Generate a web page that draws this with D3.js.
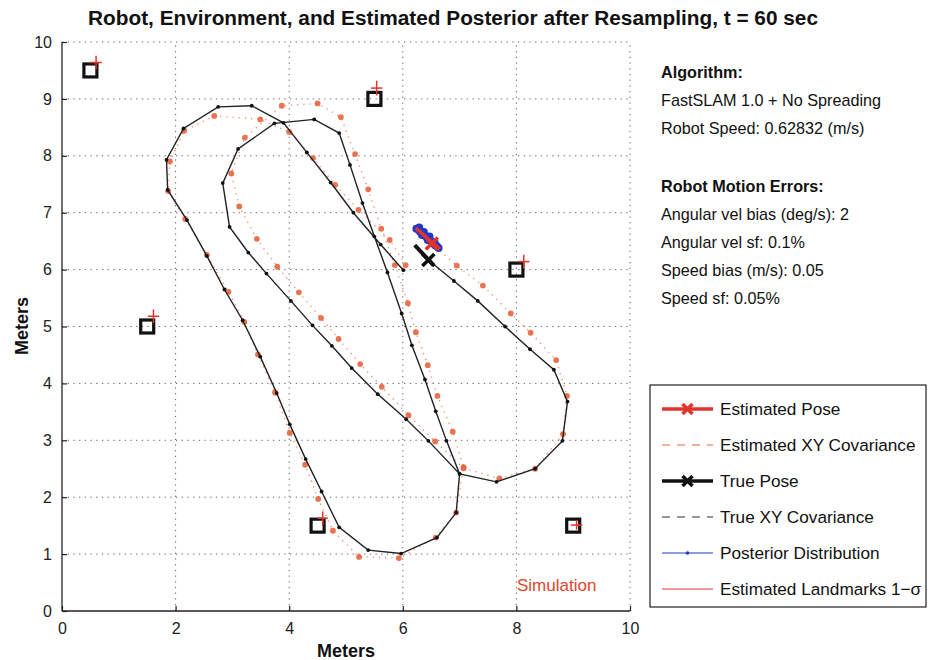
<!DOCTYPE html>
<html><head><meta charset="utf-8">
<script src="https://cdn.jsdelivr.net/npm/d3@7"></script>
<style>body{margin:0;background:#fff}svg{display:block}</style>
</head><body><svg id="c" width="929" height="660"></svg>
<script>
// ---------- data ----------
const xTicks = [0,2,4,6,8,10];
const yTicks = [0,1,2,3,4,5,6,7,8,9,10];
const gridVals = [0,1,2,3,4,5,6,7,8,9,10];
const landmarksTrue = [[0.5,9.5],[5.5,9.0],[1.5,5.0],[8.0,6.0],[4.5,1.5],[9.0,1.5]];
const landmarksEst  = [[0.60,9.64],[5.54,9.19],[1.61,5.18],[8.13,6.14],[4.59,1.63],[9.06,1.51]];
const landmarkSigX  = [0.10,0.10,0.10,0.10,0.09,0.10];
const landmarkSigY  = [0.12,0.13,0.12,0.12,0.12,0.08];
const truePath = [[6.01,5.99],[5.61,6.44],[5.13,7.00],[4.73,7.53],[4.31,8.06],[3.90,8.58],[3.34,8.88],[2.75,8.86],[2.14,8.48],[1.84,7.93],[1.86,7.40],[2.20,6.87],[2.55,6.24],[2.86,5.65],[3.18,5.11],[3.49,4.47],[3.78,3.83],[4.01,3.28],[4.29,2.67],[4.57,2.10],[4.88,1.47],[5.39,1.07],[5.97,1.01],[6.60,1.29],[6.94,1.73],[7.00,2.41],[6.77,2.99],[6.58,3.51],[6.39,4.07],[6.16,4.67],[5.98,5.23],[5.73,5.95],[5.50,6.58],[5.29,7.17],[5.07,7.84],[4.88,8.40],[4.44,8.64],[3.74,8.57],[3.10,8.12],[2.83,7.52],[2.95,6.75],[3.28,6.30],[3.60,5.93],[4.03,5.45],[4.41,5.02],[4.75,4.66],[5.10,4.27],[5.56,3.81],[6.06,3.37],[6.45,2.99],[7.00,2.41],[7.65,2.27],[8.33,2.50],[8.81,2.99],[8.90,3.68],[8.66,4.24],[8.24,4.60],[7.80,5.00],[7.32,5.45],[6.90,5.80],[6.45,6.17]];
const estPath = [[6.05,6.08],[5.77,6.52],[5.22,7.05],[4.81,7.49],[4.42,7.96],[4.00,8.42],[3.49,8.64],[2.68,8.70],[2.15,8.44],[1.90,7.90],[1.87,7.38],[2.17,6.89],[2.55,6.26],[2.93,5.61],[3.21,5.08],[3.45,4.51],[3.75,3.84],[4.01,3.13],[4.28,2.57],[4.51,1.97],[4.77,1.41],[5.23,0.95],[5.93,0.93],[6.58,1.29],[6.94,1.73],[7.07,2.53],[6.88,3.15],[6.61,3.78],[6.44,4.32],[6.23,4.90],[6.09,5.41],[5.86,6.08],[5.62,6.72],[5.39,7.41],[5.16,8.03],[4.91,8.68],[4.50,8.92],[3.87,8.88],[3.22,8.32],[2.98,7.69],[3.12,7.11],[3.43,6.54],[3.79,6.05],[4.17,5.60],[4.56,5.15],[4.87,4.78],[5.25,4.34],[5.63,3.94],[6.10,3.44],[6.57,2.98],[7.07,2.51],[7.70,2.33],[8.33,2.50],[8.82,3.11],[8.89,3.78],[8.70,4.41],[8.25,4.89],[7.90,5.23],[7.41,5.72],[6.95,6.07],[6.51,6.46]];
const truePose = {x:6.45, y:6.17, hx0:6.21, hy0:6.43, hx1:6.54, hy1:6.08};
const estPose  = {x:6.51, y:6.46, hx0:6.23, hy0:6.73, hx1:6.65, hy1:6.36};
const posteriorX = [6.24,6.27,6.30,6.33,6.36,6.39,6.42,6.45,6.48,6.51,6.54,6.57,6.60,6.63,6.29,6.37,6.47,6.56,6.34,6.44];
const posteriorY = [6.72,6.71,6.67,6.65,6.62,6.60,6.57,6.54,6.51,6.49,6.46,6.43,6.41,6.38,6.74,6.66,6.58,6.47,6.61,6.52];
const infoLines = [
  {t:"Algorithm:", b:true}, {t:"FastSLAM 1.0 + No Spreading"}, {t:"Robot Speed: 0.62832 (m/s)"}, {t:""},
  {t:"Robot Motion Errors:", b:true}, {t:"Angular vel bias (deg/s): 2"}, {t:"Angular vel sf: 0.1%"},
  {t:"Speed bias (m/s): 0.05"}, {t:"Speed sf: 0.05%"}];
const infoY = [78,106,134,0,192,220,248,276,304];
const legendItems = ["Estimated Pose","Estimated XY Covariance","True Pose","True XY Covariance","Posterior Distribution","Estimated Landmarks 1\u2212\u03c3"];

// ---------- drawing ----------
const svg = d3.select("#c");
const FONT = "'Liberation Sans', Arial, Helvetica, sans-serif";
const RED = "#e0352b", ORANGE = "#e8653f", BLUE = "#2438c8";
const x = d3.scaleLinear().domain([0,10]).range([62,630]);
const y = d3.scaleLinear().domain([0,10]).range([611,42]);

// grid
const g = svg.append("g");
g.selectAll(".gv").data(gridVals.filter(v=>v%2===0 && v>0)).join("line")
 .attr("x1",d=>x(d)).attr("x2",d=>x(d)).attr("y1",y(0)).attr("y2",y(10))
 .attr("stroke","#666").attr("stroke-width",1).attr("stroke-dasharray","1.3,4.4");
g.selectAll(".gh").data(gridVals.filter(v=>v>0)).join("line")
 .attr("x1",x(0)).attr("x2",x(10)).attr("y1",d=>y(d)).attr("y2",d=>y(d))
 .attr("stroke","#666").attr("stroke-width",1).attr("stroke-dasharray","1.3,4.4");

// axes
const xAxis = d3.axisBottom(x).tickValues(xTicks).tickSize(-5).tickPadding(12).tickFormat(d3.format("d"));
const yAxis = d3.axisLeft(y).tickValues(yTicks).tickSize(-5).tickPadding(10).tickFormat(d3.format("d"));
const gx = svg.append("g").attr("transform",`translate(0,${y(0)})`).call(xAxis);
const gy = svg.append("g").attr("transform",`translate(${x(0)},0)`).call(yAxis);
[gx,gy].forEach(a=>{
  a.select(".domain").attr("stroke","#222").attr("stroke-width",1.3);
  a.selectAll(".tick line").attr("stroke","#222").attr("stroke-width",1.2);
  a.selectAll(".tick text").attr("font-family",FONT).attr("font-size",16).attr("fill","#222");
});
gy.select(".domain").attr("d",`M0,${y(0)}V${y(10)}`);
gx.select(".domain").attr("d",`M${x(0)},0H${x(10)}`);

// estimated path (dotted orange + dots)
const line = d3.line().x(d=>x(d[0])).y(d=>y(d[1]));
svg.append("path").attr("d",line(estPath)).attr("fill","none").attr("stroke",ORANGE)
 .attr("stroke-width",1.4).attr("stroke-dasharray","1.2,5").attr("opacity",0.75);
svg.selectAll(".ed").data(estPath).join("circle").attr("cx",d=>x(d[0])).attr("cy",d=>y(d[1]))
 .attr("r",2.9).attr("fill",ORANGE).attr("opacity",0.9);

// true path
svg.append("path").attr("d",line(truePath)).attr("fill","none").attr("stroke","#222").attr("stroke-width",1.4);
svg.selectAll(".td").data(truePath).join("circle").attr("cx",d=>x(d[0])).attr("cy",d=>y(d[1]))
 .attr("r",1.9).attr("fill","#111");

// landmarks
svg.selectAll(".lm").data(landmarksTrue).join("rect")
 .attr("x",d=>x(d[0])-6.5).attr("y",d=>y(d[1])-6.5).attr("width",13).attr("height",13)
 .attr("fill","none").attr("stroke","#111").attr("stroke-width",3.2);
const le = svg.append("g");
landmarksEst.forEach((d,i)=>{
  le.append("line").attr("x1",x(d[0]-landmarkSigX[i])).attr("x2",x(d[0]+landmarkSigX[i]))
    .attr("y1",y(d[1])).attr("y2",y(d[1])).attr("stroke",RED).attr("stroke-width",1.5);
  le.append("line").attr("x1",x(d[0])).attr("x2",x(d[0]))
    .attr("y1",y(d[1]-landmarkSigY[i])).attr("y2",y(d[1]+landmarkSigY[i])).attr("stroke",RED).attr("stroke-width",1.5);
});

// posterior particles
const post = posteriorX.map((v,i)=>[v,posteriorY[i]]);
svg.selectAll(".pp").data(post).join("circle").attr("cx",d=>x(d[0])).attr("cy",d=>y(d[1]))
 .attr("r",4).attr("fill",BLUE);

// poses
function xMark(sel, cx, cy, s, col, w){
  sel.append("path").attr("d",`M${cx-s},${cy-s}L${cx+s},${cy+s}M${cx-s},${cy+s}L${cx+s},${cy-s}`)
   .attr("stroke",col).attr("stroke-width",w).attr("fill","none");
}
svg.append("line").attr("x1",x(truePose.hx0)).attr("y1",y(truePose.hy0)).attr("x2",x(truePose.hx1)).attr("y2",y(truePose.hy1))
 .attr("stroke","#111").attr("stroke-width",4);
xMark(svg, x(truePose.x), y(truePose.y), 6, "#111", 3.5);
svg.append("line").attr("x1",x(estPose.hx0)).attr("y1",y(estPose.hy0)).attr("x2",x(estPose.hx1)).attr("y2",y(estPose.hy1))
 .attr("stroke",RED).attr("stroke-width",3.5);
xMark(svg, x(estPose.x), y(estPose.y), 6, RED, 3.5);

// "Simulation" label
svg.append("text").attr("x",517).attr("y",591).attr("font-family",FONT).attr("font-size",17)
 .attr("fill","#e0452b").text("Simulation");

// title & axis labels
svg.append("text").attr("x",453).attr("y",25).attr("text-anchor","middle")
 .attr("font-family","'Liberation Sans Narrow','Liberation Sans',Arial,sans-serif").attr("font-weight","bold")
 .attr("font-size",19.5).attr("textLength",730).attr("lengthAdjust","spacingAndGlyphs").attr("fill","#111")
 .text("Robot, Environment, and Estimated Posterior after Resampling, t = 60 sec");
svg.append("text").attr("x",346).attr("y",657).attr("text-anchor","middle").attr("font-family",FONT)
 .attr("font-weight","bold").attr("font-size",18).attr("fill","#111").text("Meters");
svg.append("text").attr("transform","translate(28,326) rotate(-90)").attr("text-anchor","middle").attr("font-family",FONT)
 .attr("font-weight","bold").attr("font-size",18).attr("fill","#111").text("Meters");

// info text
infoLines.forEach((l,i)=>{ if(!l.t) return;
  svg.append("text").attr("x",661).attr("y",infoY[i]).attr("font-family",FONT).attr("font-size",16.2)
   .attr("font-weight",l.b?"bold":"normal").attr("fill","#111").text(l.t);
});

// legend
const lg = svg.append("g");
lg.append("rect").attr("x",650).attr("y",385).attr("width",276).attr("height",222)
 .attr("fill","#fff").attr("stroke","#222").attr("stroke-width",1.2);
const ly = d3.scaleLinear().domain([0,5]).range([409,589]);
legendItems.forEach((t,i)=>{
  const yy = ly(i), x0=662, x1=713, xm=(x0+x1)/2;
  if(i===0){ lg.append("line").attr("x1",x0).attr("x2",x1).attr("y1",yy).attr("y2",yy).attr("stroke",RED).attr("stroke-width",3.5);
    xMark(lg,xm,yy,5,RED,3.5); }
  if(i===1){ lg.append("line").attr("x1",x0).attr("x2",x1).attr("y1",yy).attr("y2",yy).attr("stroke",ORANGE).attr("stroke-width",1.2).attr("stroke-dasharray","8,7"); }
  if(i===2){ lg.append("line").attr("x1",x0).attr("x2",x1).attr("y1",yy).attr("y2",yy).attr("stroke","#111").attr("stroke-width",3.5);
    xMark(lg,xm,yy,5,"#111",3.5); }
  if(i===3){ lg.append("line").attr("x1",x0).attr("x2",x1).attr("y1",yy).attr("y2",yy).attr("stroke","#333").attr("stroke-width",1.2).attr("stroke-dasharray","8,7"); }
  if(i===4){ lg.append("line").attr("x1",x0).attr("x2",x1).attr("y1",yy).attr("y2",yy).attr("stroke",BLUE).attr("stroke-width",1.2);
    lg.append("circle").attr("cx",xm).attr("cy",yy).attr("r",1.8).attr("fill",BLUE); }
  if(i===5){ lg.append("line").attr("x1",x0).attr("x2",x1).attr("y1",yy).attr("y2",yy).attr("stroke",RED).attr("stroke-width",1.2); }
  lg.append("text").attr("x",720).attr("y",yy+6).attr("font-family",FONT).attr("font-size",17.2).attr("fill","#111").text(t);
});
</script></body></html>
